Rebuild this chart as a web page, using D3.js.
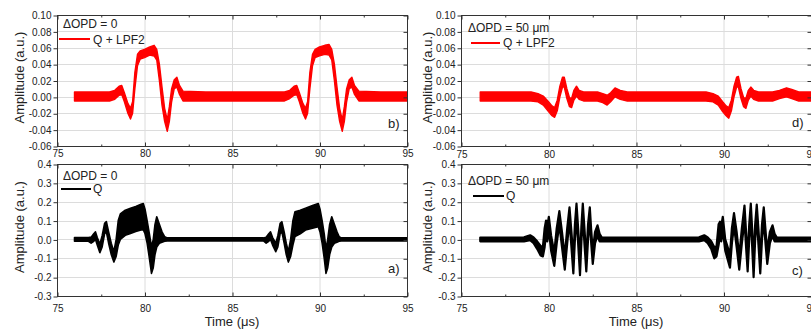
<!DOCTYPE html>
<html>
<head>
<meta charset="utf-8">
<script src="https://cdn.jsdelivr.net/npm/d3@7"></script>
<style>
body { margin: 0; background: #fff; }
text { font-family: "Liberation Sans", Arial, sans-serif; fill: #222; }
</style>
</head>
<body>
<svg id="chart" width="811" height="329"></svg>
<script>
// time axis, microseconds
const timeTicks = [75, 80, 85, 90, 95];
const timeMinor = [77.5, 82.5, 87.5, 92.5];
const lpfTicks = [-0.06, -0.04, -0.02, 0.00, 0.02, 0.04, 0.06, 0.08, 0.10];
const qTicks = [-0.3, -0.2, -0.1, 0.0, 0.1, 0.2, 0.3, 0.4];

// traces as [time, lower edge, upper edge] of the noisy band
const lpfZero = [
  [76.0,-0.005,0.006],[77.0,-0.005,0.006],[78.0,-0.005,0.006],[78.3,-0.003,0.008],
  [78.55,0.002,0.013],[78.7,0.003,0.014],[78.85,-0.006,0.005],
  [79.05,-0.02,-0.008],[79.2,-0.027,-0.014],[79.32,-0.02,-0.006],
  [79.45,0.01,0.03],[79.6,0.038,0.052],[79.75,0.046,0.056],[80.0,0.048,0.058],
  [80.3,0.051,0.061],[80.55,0.05,0.063],[80.7,0.045,0.058],
  [80.85,0.02,0.04],[81.0,-0.01,0.012],[81.15,-0.03,-0.014],[81.3,-0.042,-0.028],
  [81.42,-0.03,-0.012],[81.55,-0.006,0.01],[81.7,0.01,0.021],[81.85,0.012,0.024],
  [82.0,0.003,0.014],[82.2,-0.005,0.007],[83.5,-0.005,0.006],[85.0,-0.005,0.006],
  [86.5,-0.005,0.006],[88.0,-0.005,0.006],
  [88.3,-0.002,0.008],[88.55,0.002,0.013],[88.7,0.003,0.014],[88.85,-0.006,0.005],
  [89.05,-0.02,-0.008],[89.2,-0.027,-0.014],[89.32,-0.02,-0.006],
  [89.45,0.01,0.03],[89.6,0.038,0.052],[89.75,0.048,0.058],[90.0,0.05,0.061],
  [90.3,0.052,0.063],[90.55,0.051,0.064],[90.7,0.045,0.058],
  [90.85,0.02,0.04],[91.0,-0.01,0.012],[91.15,-0.03,-0.014],[91.3,-0.042,-0.028],
  [91.42,-0.03,-0.012],[91.55,-0.006,0.01],[91.7,0.01,0.021],[91.85,0.012,0.024],
  [92.0,0.003,0.014],[92.25,-0.005,0.007],[93.5,-0.005,0.006],[95.0,-0.005,0.006]
];

const qZero = [
  [76.0,-0.01,0.01],[76.8,-0.01,0.01],[76.95,-0.02,0.012],[77.1,-0.01,0.03],[77.2,0.0,0.04],
  [77.3,-0.03,0.01],[77.45,-0.07,-0.025],[77.58,-0.04,0.02],[77.72,0.03,0.085],[77.82,0.04,0.095],
  [77.95,-0.02,0.04],[78.1,-0.08,-0.02],[78.25,-0.12,-0.065],[78.38,-0.09,0.0],[78.5,-0.03,0.1],
  [78.62,0.0,0.135],[78.9,0.022,0.155],[79.2,0.032,0.165],[79.5,0.042,0.175],[79.8,0.05,0.186],
  [79.93,0.052,0.19],[80.03,0.03,0.16],[80.15,-0.02,0.1],[80.28,-0.1,0.03],[80.4,-0.18,-0.04],
  [80.5,-0.15,0.0],[80.6,-0.08,0.08],[80.7,-0.04,0.12],[80.85,-0.02,0.08],[81.0,-0.015,0.04],
  [81.15,-0.01,0.015],[81.3,-0.008,0.008],[83.0,-0.008,0.008],[85.0,-0.008,0.008],[86.8,-0.008,0.008],
  [86.95,-0.02,0.012],[87.1,-0.01,0.03],[87.2,0.0,0.04],
  [87.32,-0.03,0.01],[87.5,-0.065,-0.02],[87.62,-0.04,0.02],[87.75,0.03,0.085],[87.85,0.04,0.094],
  [87.98,-0.02,0.04],[88.1,-0.08,-0.02],[88.22,-0.12,-0.065],[88.35,-0.09,0.0],[88.48,-0.03,0.1],
  [88.6,0.015,0.147],[88.9,0.03,0.155],[89.2,0.05,0.166],[89.6,0.06,0.18],[89.93,0.067,0.19],
  [90.03,0.04,0.16],[90.15,-0.02,0.1],[90.27,-0.1,0.03],[90.37,-0.18,-0.05],[90.47,-0.15,0.0],
  [90.58,-0.08,0.08],[90.7,-0.04,0.12],[90.85,-0.02,0.08],[91.0,-0.015,0.04],[91.12,-0.01,0.015],
  [91.25,-0.008,0.008],[93.0,-0.008,0.008],[95.0,-0.008,0.008]
];

const lpfFifty = [
  [76.1,-0.005,0.006],[77.5,-0.005,0.006],[79.0,-0.005,0.006],[79.4,-0.006,0.004],
  [79.7,-0.01,0.001],[80.0,-0.018,-0.006],[80.2,-0.023,-0.011],[80.35,-0.025,-0.013],
  [80.5,-0.017,-0.004],[80.65,0.0,0.013],[80.8,0.012,0.024],[80.9,0.012,0.024],
  [81.05,-0.002,0.01],[81.2,-0.012,-0.001],[81.32,-0.013,-0.002],[81.45,-0.004,0.008],
  [81.6,0.001,0.013],[81.75,-0.003,0.008],[82.0,-0.005,0.006],[82.8,-0.005,0.006],
  [83.1,-0.007,0.004],[83.35,-0.01,0.002],[83.55,-0.006,0.005],[83.8,0.0,0.011],
  [84.1,-0.003,0.008],[84.5,-0.005,0.006],[86.0,-0.005,0.006],[87.5,-0.005,0.006],
  [89.0,-0.005,0.006],[89.4,-0.006,0.004],
  [89.7,-0.01,0.001],[89.95,-0.018,-0.006],[90.15,-0.023,-0.011],[90.3,-0.026,-0.013],
  [90.45,-0.017,-0.004],[90.6,0.0,0.013],[90.75,0.012,0.024],[90.85,0.012,0.025],
  [91.0,-0.002,0.01],[91.15,-0.012,-0.001],[91.28,-0.014,-0.002],[91.42,-0.004,0.008],
  [91.56,0.001,0.012],[91.72,-0.003,0.008],[92.0,-0.005,0.006],[92.8,-0.005,0.006],
  [93.2,-0.002,0.008],[93.6,0.0,0.011],[93.9,-0.002,0.009],[94.3,-0.005,0.006],[95.0,-0.005,0.006]
];

const qFifty = [
  [76.1,-0.01,0.01],[77.5,-0.01,0.01],[78.6,-0.01,0.011],[78.95,-0.004,0.022],[79.15,-0.02,0.01],
  [79.35,-0.05,-0.01],[79.55,-0.085,-0.035],[79.68,-0.09,-0.04],[79.78,-0.04,0.06],
  [79.86,0.03,0.1],[79.93,-0.01,0.07],[80.02,0.05,0.12],[80.15,-0.06,0.02],
  [80.33,-0.14,-0.07],[80.47,-0.02,0.06],[80.62,0.08,0.15],[80.77,-0.04,0.04],
  [80.93,-0.16,-0.09],[81.07,-0.02,0.06],[81.2,0.1,0.17],[81.31,-0.04,0.04],
  [81.42,-0.18,-0.1],[81.51,0.0,0.08],[81.6,0.12,0.19],[81.7,-0.03,0.05],
  [81.8,-0.19,-0.11],[81.88,-0.01,0.07],[81.96,0.12,0.19],[82.06,-0.03,0.05],
  [82.16,-0.17,-0.1],[82.26,0.0,0.08],[82.36,0.1,0.17],[82.44,-0.02,0.05],
  [82.53,-0.13,-0.06],[82.66,-0.02,0.04],[82.8,0.02,0.075],[82.92,-0.01,0.03],
  [83.05,-0.01,0.01],[85.0,-0.01,0.01],[87.0,-0.01,0.01],[88.6,-0.01,0.011],
  [88.9,-0.004,0.022],[89.1,-0.02,0.01],[89.3,-0.05,-0.01],[89.47,-0.1,-0.04],[89.6,-0.09,-0.04],
  [89.72,-0.03,0.08],[89.8,0.02,0.094],[89.87,-0.01,0.07],[89.96,0.05,0.12],[90.1,-0.06,0.0],
  [90.37,-0.15,-0.08],[90.48,-0.02,0.06],[90.6,0.07,0.14],[90.75,-0.04,0.04],
  [90.9,-0.16,-0.09],[91.05,-0.02,0.06],[91.2,0.1,0.18],[91.29,-0.04,0.04],
  [91.38,-0.17,-0.1],[91.47,0.0,0.08],[91.56,0.12,0.19],[91.64,-0.04,0.05],
  [91.72,-0.2,-0.12],[91.81,0.0,0.08],[91.9,0.11,0.185],[92.0,-0.03,0.05],
  [92.1,-0.18,-0.1],[92.2,0.0,0.08],[92.3,0.1,0.17],[92.4,-0.02,0.05],
  [92.5,-0.13,-0.06],[92.65,-0.02,0.04],[92.8,0.02,0.075],[92.92,-0.01,0.03],
  [93.05,-0.01,0.01],[95.0,-0.01,0.01]
];

const svg = d3.select('#chart');
const W = 350;

const fmt2 = v => v.toFixed(2);
const fmt1 = v => v.toFixed(1);

// layout of the four panels; legend offsets are relative to the panel corner
const panels = [
  { data: lpfZero, color: '#f00', sw: 1.4, left: 57, top: 15, h: 131, yDomain: [-0.06, 0.10], yTicks: lpfTicks, fmt: fmt2,
    pad: 3, titleOff: 38, title: 'ΔOPD = 0', name: 'Q + LPF2', tag: 'b)',
    lg: { tx: 6, ty: 13, l1: 2, l2: 33, ly: 24, nx: 36, ny: 29 }, tagY: 113 },
  { data: qZero, color: '#000', sw: 1.6, left: 57, top: 164, h: 132, yDomain: [-0.3, 0.4], yTicks: qTicks, fmt: fmt1,
    pad: 8, titleOff: 38, title: 'ΔOPD = 0', name: 'Q', tag: 'a)',
    lg: { tx: 6, ty: 16, l1: 4, l2: 34, ly: 25, nx: 36, ny: 29 }, tagY: 109, time: true },
  { data: lpfFifty, color: '#f00', sw: 1.4, left: 461, top: 15, h: 131, yDomain: [-0.06, 0.10], yTicks: lpfTicks, fmt: fmt2,
    pad: 4, titleOff: 34, title: 'ΔOPD = 50 μm', name: 'Q + LPF2', tag: 'd)',
    lg: { tx: 7, ty: 17, l1: 10, l2: 39, ly: 28, nx: 42, ny: 32 }, tagY: 112 },
  { data: qFifty, color: '#000', sw: 2.2, left: 461, top: 164, h: 132, yDomain: [-0.3, 0.4], yTicks: qTicks, fmt: fmt1,
    pad: 8, titleOff: 34, title: 'ΔOPD = 50 μm', name: 'Q', tag: 'c)',
    lg: { tx: 7, ty: 21, l1: 12, l2: 43, ly: 32, nx: 45, ny: 36 }, tagY: 111, time: true }
];

panels.forEach(drawPanel);

function drawPanel(p) {
  const x = d3.scaleLinear().domain([75, 95]).range([p.left, p.left + W]);
  const y = d3.scaleLinear().domain(p.yDomain).range([p.top + p.h, p.top]);
  const g = svg.append('g');

  // grid
  g.selectAll('line.vg').data(timeTicks.slice(1, -1)).join('line')
    .attr('x1', d => x(d) + 0.5).attr('x2', d => x(d) + 0.5)
    .attr('y1', p.top).attr('y2', p.top + p.h)
    .attr('stroke', '#dcdcdc');
  g.selectAll('line.hg').data(p.yTicks.slice(1, -1)).join('line')
    .attr('x1', p.left).attr('x2', p.left + W)
    .attr('y1', d => Math.round(y(d)) + 0.5).attr('y2', d => Math.round(y(d)) + 0.5)
    .attr('stroke', '#dcdcdc');

  // trace band
  const area = d3.area()
    .x(d => x(d[0]))
    .y0(d => y(d[1]))
    .y1(d => y(d[2]));
  g.append('path')
    .datum(p.data)
    .attr('d', area)
    .attr('fill', p.color)
    .attr('stroke', p.color)
    .attr('stroke-width', p.sw)
    .attr('stroke-linejoin', 'round');

  // frame
  g.append('rect')
    .attr('x', p.left + 0.5).attr('y', p.top + 0.5)
    .attr('width', W).attr('height', p.h)
    .attr('fill', 'none').attr('stroke', '#333');

  const style = a => a.attr('color', '#333')
    .attr('font-family', '"Liberation Sans", Arial, sans-serif')
    .attr('font-size', 10)
    .call(s => s.select('.domain').remove());

  // left axis with labels, outward ticks
  g.append('g').attr('transform', `translate(${p.left + 0.5},0.5)`)
    .call(d3.axisLeft(y).tickValues(p.yTicks).tickFormat(p.fmt).tickSize(4).tickPadding(2))
    .call(style);
  // right axis, inward ticks
  g.append('g').attr('transform', `translate(${p.left + W + 0.5},0.5)`)
    .call(d3.axisRight(y).tickValues(p.yTicks).tickFormat('').tickSize(-4))
    .call(style);
  // bottom axis
  g.append('g').attr('transform', `translate(0.5,${p.top + p.h + 0.5})`)
    .call(d3.axisBottom(x).tickValues(timeTicks).tickFormat(d3.format('d')).tickSize(-4).tickPadding(p.pad))
    .call(style);
  g.append('g').attr('transform', `translate(0.5,${p.top + p.h + 0.5})`)
    .call(d3.axisBottom(x).tickValues(timeMinor).tickFormat('').tickSize(-2))
    .call(style);
  // top axis
  g.append('g').attr('transform', `translate(0.5,${p.top + 0.5})`)
    .call(d3.axisTop(x).tickValues(timeTicks).tickFormat('').tickSize(-4))
    .call(style);
  g.append('g').attr('transform', `translate(0.5,${p.top + 0.5})`)
    .call(d3.axisTop(x).tickValues(timeMinor).tickFormat('').tickSize(-2))
    .call(style);

  // y title
  g.append('text')
    .attr('transform', `translate(${p.left - p.titleOff},${p.top + p.h / 2 - 3}) rotate(-90)`)
    .attr('text-anchor', 'middle').attr('dy', '0.35em')
    .attr('font-size', 13)
    .text('Amplitude (a.u.)');

  if (p.time) {
    g.append('text')
      .attr('x', x(85)).attr('y', 326)
      .attr('text-anchor', 'middle')
      .attr('font-size', 13)
      .text('Time (μs)');
  }

  // legend
  const lg = p.lg;
  g.append('text').attr('x', p.left + lg.tx).attr('y', p.top + lg.ty)
    .attr('font-size', 12).text(p.title);
  g.append('line')
    .attr('x1', p.left + lg.l1).attr('x2', p.left + lg.l2)
    .attr('y1', p.top + lg.ly).attr('y2', p.top + lg.ly)
    .attr('stroke', p.color).attr('stroke-width', 2);
  g.append('text').attr('x', p.left + lg.nx).attr('y', p.top + lg.ny)
    .attr('font-size', 12).text(p.name);

  // panel tag
  g.append('text').attr('x', p.left + 331).attr('y', p.top + p.tagY)
    .attr('font-size', 13).text(p.tag);
}
</script>
</body>
</html>
